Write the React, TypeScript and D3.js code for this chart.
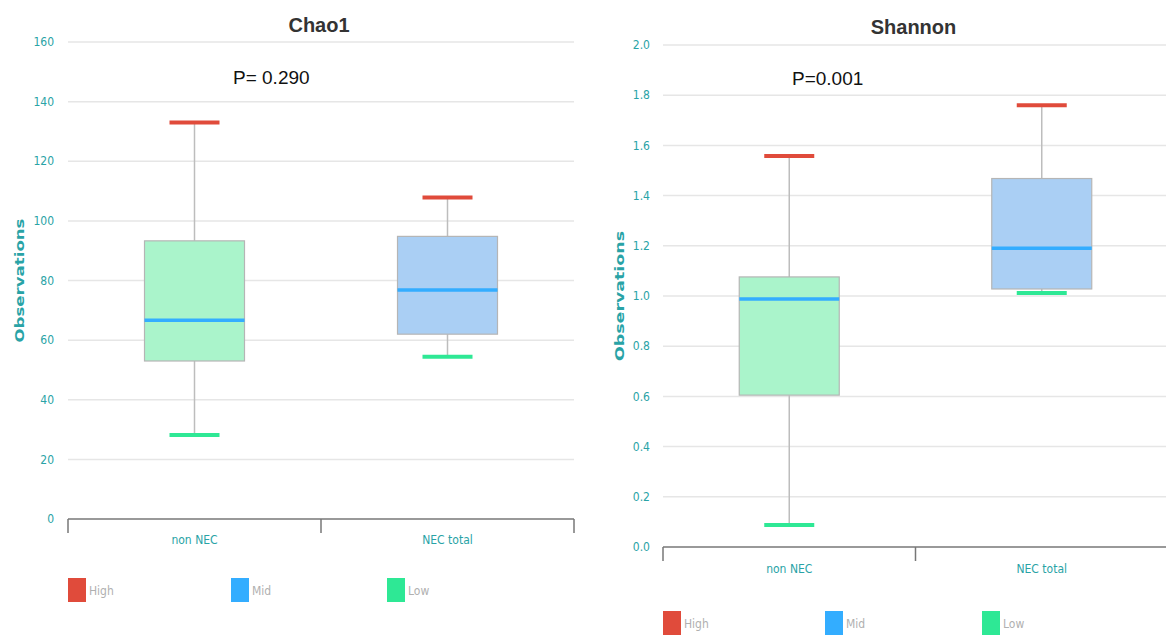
import React from "react";
import * as d3 from "d3";

const categories = ["non NEC", "NEC total"];
const chaoHigh = [133, 107.8];
const chaoQ3 = [93.3, 94.8];
const chaoMid = [66.7, 76.8];
const chaoQ1 = [53, 62];
const chaoLow = [28.2, 54.4];
const chaoTicks = [0, 20, 40, 60, 80, 100, 120, 140, 160];

const shHigh = [1.558, 1.76];
const shQ3 = [1.076, 1.468];
const shMid = [0.988, 1.19];
const shQ1 = [0.605, 1.028];
const shLow = [0.088, 1.012];
const shTicks = [0, 0.2, 0.4, 0.6, 0.8, 1.0, 1.2, 1.4, 1.6, 1.8, 2.0];

const legendItems = ["High", "Mid", "Low"];
const legendColors = ["#e04b3b", "#33adff", "#2ee895"];
const boxFills = ["#aaf4cb", "#aacff4"];

const TEAL = "#29a3a6";

type PanelProps = {
  title: string;
  pText: string;
  pX: number;
  high: number[];
  q3: number[];
  mid: number[];
  q1: number[];
  low: number[];
  ticks: number[];
  domainMax: number;
  fmt: (v: number) => string;
  x0: number;
  x1: number;
  yTop: number;
  yBottom: number;
  titleY: number;
  pY: number;
  catY: number;
  legY: number;
  legX: number[];
  axisLabelX: number;
  axisLabelLen: number;
  tickLabelX: number;
};

function Panel(p: PanelProps) {
  const y = d3.scaleLinear().domain([0, p.domainMax]).range([p.yBottom, p.yTop]);
  const x = d3.scaleBand().domain(categories).range([p.x0, p.x1]);
  const bw = 100;
  const capW = 50;
  const midY = (p.yTop + p.yBottom) / 2;
  return (
    <g>
      <text x={(p.x0 + p.x1) / 2 - 2} y={p.titleY} textAnchor="middle" fontFamily="Liberation Sans, Arial" fontWeight="bold" fontSize={20} fill="#333">
        {p.title}
      </text>
      {p.ticks.map((t) => (
        <g key={t}>
          {t !== 0 && (
            <line x1={p.x0} x2={p.x1} y1={y(t)} y2={y(t)} stroke="#e6e6e6" strokeWidth={1.5} />
          )}
          <text x={p.tickLabelX} y={y(t)} dy="0.35em" textAnchor="end" fontFamily="DejaVu Sans Condensed, DejaVu Sans" fontSize={12} fill={TEAL}>
            {p.fmt(t)}
          </text>
        </g>
      ))}
      <text
        transform={`translate(${p.axisLabelX},${midY}) rotate(-90)`}
        textAnchor="middle"
        dy="0.35em"
        fontFamily="DejaVu Sans, Verdana"
        fontWeight="bold"
        fontSize={13}
        textLength={p.axisLabelLen}
        lengthAdjust="spacingAndGlyphs"
        fill={TEAL}
      >
        Observations
      </text>
      <text x={p.pX} y={p.pY} fontFamily="Liberation Sans, Arial" fontSize={19} fill="#111">
        {p.pText}
      </text>
      {categories.map((c, i) => {
        const cx = (x(c) as number) + x.bandwidth() / 2;
        return (
          <g key={c}>
            <line x1={cx} x2={cx} y1={y(p.high[i])} y2={y(p.q3[i])} stroke="#bdbdbd" strokeWidth={1.5} />
            <line x1={cx} x2={cx} y1={y(p.q1[i])} y2={y(p.low[i])} stroke="#bdbdbd" strokeWidth={1.5} />
            <rect x={cx - bw / 2} y={y(p.q3[i])} width={bw} height={y(p.q1[i]) - y(p.q3[i])} fill={boxFills[i]} stroke="#b5b5b5" strokeWidth={1.2} />
            <line x1={cx - bw / 2} x2={cx + bw / 2} y1={y(p.mid[i])} y2={y(p.mid[i])} stroke={legendColors[1]} strokeWidth={3.5} />
            <line x1={cx - capW / 2} x2={cx + capW / 2} y1={y(p.high[i])} y2={y(p.high[i])} stroke={legendColors[0]} strokeWidth={4} />
            <line x1={cx - capW / 2} x2={cx + capW / 2} y1={y(p.low[i])} y2={y(p.low[i])} stroke={legendColors[2]} strokeWidth={4} />
            <text x={cx} y={p.catY} dy="0.35em" textAnchor="middle" fontFamily="DejaVu Sans Condensed, DejaVu Sans" fontSize={12} fill={TEAL}>
              {c}
            </text>
          </g>
        );
      })}
      <line x1={p.x0} x2={p.x1} y1={p.yBottom} y2={p.yBottom} stroke="#777" strokeWidth={1.5} />
      {[0, 1, 2].map((k) => {
        const tx = p.x0 + k * x.bandwidth();
        return <line key={k} x1={tx} x2={tx} y1={p.yBottom} y2={p.yBottom + 14} stroke="#777" strokeWidth={1.5} />;
      })}
      {legendItems.map((l, i) => (
        <g key={l}>
          <rect x={p.legX[i]} y={p.legY} width={18} height={24} fill={legendColors[i]} />
          <text x={p.legX[i] + 21} y={p.legY + 13} dy="0.35em" fontFamily="DejaVu Sans Condensed, DejaVu Sans" fontSize={12} fill="#b0b0b0">
            {l}
          </text>
        </g>
      ))}
    </g>
  );
}

export default function App() {
  return (
    <svg width={1166} height={635} style={{ position: "absolute", left: 0, top: 0, background: "#fff" }}>
      <Panel
        title="Chao1"
        pText="P= 0.290"
        pX={233}
        high={chaoHigh}
        q3={chaoQ3}
        mid={chaoMid}
        q1={chaoQ1}
        low={chaoLow}
        ticks={chaoTicks}
        domainMax={160}
        fmt={(v) => String(v)}
        x0={68}
        x1={574}
        yTop={42}
        yBottom={519}
        titleY={32}
        pY={84}
        catY={540}
        legY={578}
        legX={[68, 231, 387]}
        axisLabelX={19}
        axisLabelLen={124}
        tickLabelX={54}
      />
      <Panel
        title="Shannon"
        pText="P=0.001"
        pX={792}
        high={shHigh}
        q3={shQ3}
        mid={shMid}
        q1={shQ1}
        low={shLow}
        ticks={shTicks}
        domainMax={2}
        fmt={(v) => v.toFixed(1)}
        x0={663}
        x1={1168}
        yTop={45}
        yBottom={547}
        titleY={34}
        pY={85}
        catY={569}
        legY={611}
        legX={[663, 825, 982]}
        axisLabelX={619}
        axisLabelLen={130}
        tickLabelX={650}
      />
    </svg>
  );
}
